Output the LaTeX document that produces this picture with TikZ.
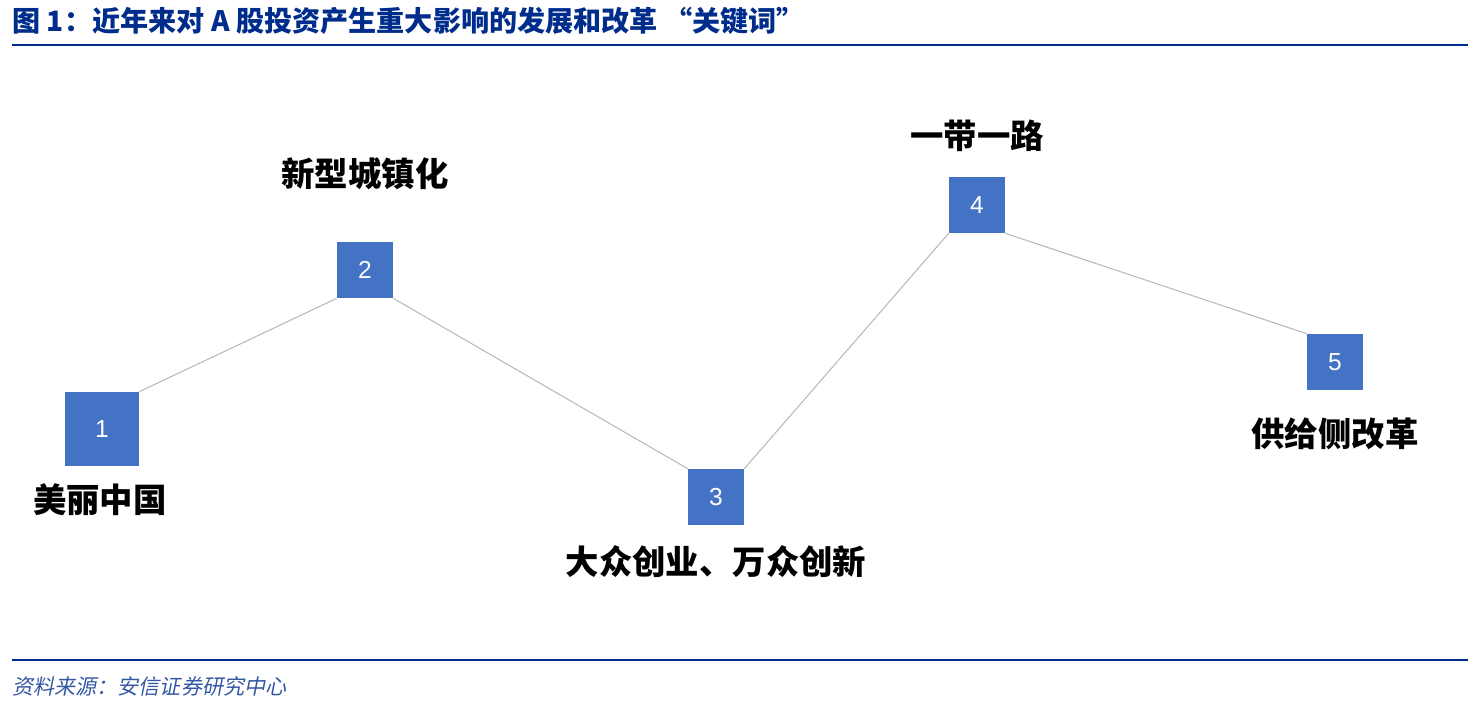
\documentclass[tikz,border=0pt]{standalone}
\usepackage{fontspec}
\setmainfont{Liberation Sans}
\newfontfamily\cjk{Noto Sans CJK SC}
\newfontfamily\cjkit[FakeSlant=0.2]{Noto Sans CJK SC}
\usetikzlibrary{positioning}
\definecolor{boxblue}{RGB}{68,114,196}
\definecolor{titleblue}{RGB}{0,45,140}
\tikzset{
  numbox/.style={fill=boxblue,text=white,minimum size=1.12cm,inner sep=0pt,font=\fontsize{14}{14}\selectfont},
  keyword/.style={font=\cjk\bfseries\fontsize{19}{19}\selectfont},
  link/.style={draw=gray!55,line width=0.6pt}
}
\begin{document}
\begin{tikzpicture}[x=0.02cm,y=-0.02cm]
  \useasboundingbox (0,0) rectangle (1481,707);
  % title and rules
  \node[anchor=west,text=titleblue,font=\cjk\bfseries\fontsize{16}{16}\selectfont,inner sep=0pt] (title) at (12,21) {图 \textbf{1}：近年来对 \textbf{A} 股投资产生重大影响的发展和改革 “关键词”};
  \draw[titleblue,line width=1pt] (12,45) -- (1468,45);
  \draw[titleblue,line width=1pt] (12,660) -- (1468,660);
  \node[anchor=west,text=titleblue!80,font=\cjkit\fontsize{12}{12}\selectfont,inner sep=0pt] (source) at (12,686) {资料来源：安信证券研究中心};

  % number boxes
  \node[numbox,minimum size=1.48cm] (n1) at (102,429) {1};
  \node[numbox] (n2) at (365,270) {2};
  \node[numbox] (n3) at (716,497) {3};
  \node[numbox] (n4) at (977,205) {4};
  \node[numbox] (n5) at (1335,362) {5};

  % connectors
  \draw[link] (n1.north east) -- (n2.south west);
  \draw[link] (n2.south east) -- (n3.north west);
  \draw[link] (n3.north east) -- (n4.south west);
  \draw[link] (n4.south east) -- (n5.north west);

  % keywords
  \node[keyword] (k1) at (100,500) {美丽中国};
  \node[keyword] (k2) at (365,174) {新型城镇化};
  \node[keyword] (k3) at (716,562) {大众创业、万众创新};
  \node[keyword] (k4) at (977,136) {一带一路};
  \node[keyword] (k5) at (1335,434) {供给侧改革};
\end{tikzpicture}
\end{document}
